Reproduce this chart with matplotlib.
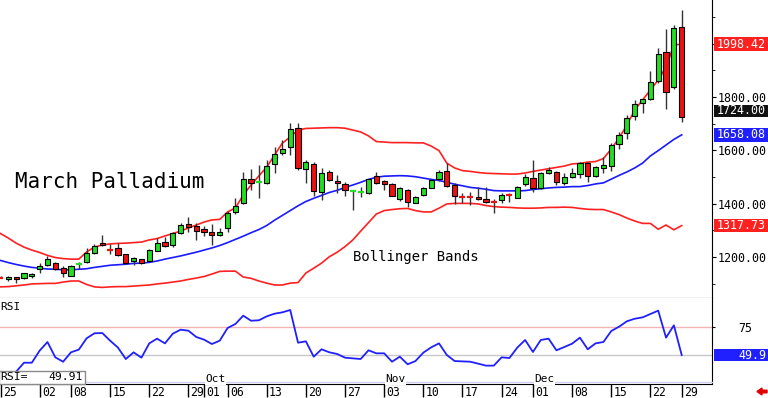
import matplotlib
matplotlib.use('Agg')
import matplotlib.pyplot as plt
from matplotlib.patches import Rectangle, FancyArrow
import numpy as np

# daily OHLC, Aug 25 .. Dec 29 (trading days)
opens = [1125, 1119, 1124, 1120, 1128, 1156, 1170, 1179, 1159, 1130, 1172, 1181, 1214, 1251, 1228, 1235, 1210, 1185, 1191, 1186,
         1224, 1256, 1244, 1289, 1325, 1316, 1306, 1295, 1281, 1309, 1369, 1401, 1492, 1480, 1476, 1549, 1589, 1614, 1683, 1529,
         1549, 1445, 1519, 1486, 1474, 1444, 1442, 1439, 1504, 1485, 1473, 1416, 1451, 1404, 1432, 1460, 1491, 1522, 1470, 1427,
         1427, 1425, 1419, 1409, 1414, 1434, 1423, 1473, 1498, 1458, 1514, 1520, 1476, 1501, 1511, 1551, 1505, 1535, 1543, 1623,
         1664, 1729, 1776, 1792, 1860, 1970, 1836, 2061]
highs = [1127, 1127, 1126, 1141, 1140, 1176, 1204, 1181, 1166, 1169, 1180, 1234, 1248, 1283, 1249, 1251, 1212, 1199, 1193, 1230,
         1270, 1274, 1294, 1327, 1349, 1329, 1316, 1324, 1309, 1371, 1420, 1520, 1530, 1545, 1562, 1612, 1639, 1701, 1702, 1564,
         1556, 1535, 1526, 1507, 1480, 1452, 1464, 1494, 1520, 1489, 1476, 1464, 1455, 1430, 1462, 1492, 1526, 1551, 1476, 1439,
         1443, 1461, 1461, 1416, 1441, 1441, 1468, 1511, 1564, 1519, 1539, 1522, 1516, 1533, 1557, 1555, 1540, 1576, 1629, 1670,
         1732, 1789, 1793, 1899, 1983, 2054, 2070, 2126]
lows = [1121, 1110, 1101, 1118, 1121, 1139, 1166, 1152, 1124, 1128, 1154, 1179, 1211, 1243, 1211, 1205, 1173, 1170, 1174, 1182,
        1222, 1237, 1237, 1285, 1295, 1264, 1279, 1245, 1279, 1295, 1361, 1399, 1450, 1422, 1474, 1515, 1583, 1583, 1526, 1476,
        1430, 1415, 1486, 1440, 1428, 1376, 1424, 1436, 1474, 1451, 1428, 1411, 1389, 1401, 1430, 1457, 1486, 1461, 1399, 1404,
        1395, 1414, 1401, 1366, 1404, 1408, 1421, 1466, 1445, 1455, 1511, 1470, 1470, 1495, 1495, 1482, 1500, 1516, 1524, 1604,
        1641, 1714, 1741, 1789, 1854, 1755, 1829, 1707]
closes = [1123, 1125, 1116, 1139, 1137, 1166, 1191, 1154, 1141, 1166, 1174, 1216, 1240, 1245, 1226, 1207, 1176, 1195, 1176, 1226,
          1251, 1241, 1289, 1319, 1314, 1299, 1295, 1284, 1294, 1364, 1391, 1494, 1478, 1482, 1541, 1585, 1604, 1679, 1533, 1555,
          1448, 1514, 1489, 1476, 1451, 1446, 1444, 1492, 1476, 1474, 1430, 1458, 1407, 1424, 1458, 1489, 1520, 1466, 1430, 1425,
          1425, 1417, 1408, 1407, 1433, 1432, 1464, 1499, 1458, 1514, 1526, 1480, 1501, 1516, 1551, 1504, 1536, 1545, 1620, 1657,
          1720, 1774, 1791, 1857, 1960, 1820, 2058, 1724]

upper_band = [1288, 1271, 1252, 1237, 1226, 1217, 1206, 1198, 1194, 1192, 1192, 1219, 1237, 1245, 1249, 1251, 1252, 1254, 1256, 1264,
              1269, 1279, 1288, 1297, 1309, 1320, 1331, 1339, 1341, 1369, 1384, 1432, 1470, 1504, 1537, 1582, 1627, 1650, 1676, 1682,
              1683, 1684, 1685, 1685, 1683, 1676, 1669, 1654, 1633, 1631, 1629, 1629, 1629, 1628, 1628, 1616, 1599, 1552, 1534, 1524,
              1521, 1517, 1514, 1513, 1512, 1511, 1511, 1515, 1521, 1526, 1531, 1536, 1541, 1549, 1551, 1556, 1558, 1569, 1605, 1646,
              1695, 1751, 1789, 1826, 1864, 1912, 1995, 1998.42]
mid_band = [1187, 1179, 1172, 1166, 1161, 1158, 1155, 1154, 1152, 1152, 1154, 1156, 1161, 1165, 1169, 1171, 1173, 1176, 1177, 1180,
            1185, 1192, 1198, 1204, 1211, 1218, 1226, 1234, 1243, 1254, 1266, 1278, 1291, 1303, 1318, 1338, 1356, 1374, 1392, 1408,
            1420, 1431, 1442, 1450, 1461, 1470, 1480, 1491, 1499, 1503, 1504, 1505, 1504, 1501, 1496, 1491, 1487, 1480, 1473, 1467,
            1461, 1458, 1454, 1449, 1448, 1448, 1448, 1449, 1453, 1456, 1459, 1461, 1462, 1464, 1464, 1468, 1474, 1478, 1492, 1506,
            1519, 1534, 1552, 1579, 1599, 1620, 1641, 1658.08]
lower_band = [1088, 1089, 1092, 1095, 1099, 1100, 1101, 1101, 1106, 1110, 1110, 1097, 1088, 1086, 1088, 1089, 1089, 1091, 1093, 1095,
              1099, 1102, 1106, 1110, 1116, 1121, 1127, 1136, 1146, 1147, 1147, 1125, 1120, 1110, 1102, 1095, 1095, 1102, 1104, 1140,
              1158, 1177, 1201, 1218, 1239, 1264, 1297, 1329, 1361, 1374, 1378, 1381, 1382, 1374, 1369, 1369, 1383, 1399, 1401, 1401,
              1401, 1399, 1393, 1389, 1387, 1386, 1384, 1383, 1383, 1384, 1386, 1386, 1387, 1386, 1382, 1379, 1378, 1378, 1369, 1359,
              1346, 1335, 1326, 1326, 1304, 1320, 1302, 1317.73]
rsi = [30, 33, 35.1, 43.1, 43.1, 53.9, 61.6, 47.9, 44.0, 52.4, 54.8, 64.9, 69.4, 69.6, 62.8, 56.6, 46.4, 52.4, 47.6, 60.4,
       64.6, 60.4, 69.0, 72.6, 71.7, 66.1, 63.7, 59.8, 62.8, 74.1, 77.7, 85.1, 80.6, 81.0, 84.5, 86.9, 88.1, 90.2, 61.0, 62.2,
       48.5, 55.1, 52.4, 50.9, 47.6, 47.0, 46.4, 54.2, 51.5, 51.5, 44.0, 48.5, 41.7, 44.6, 52.1, 56.8, 60.4, 50.0, 44.6, 44.3,
       44.0, 42.3, 40.5, 40.5, 47.9, 47.3, 56.6, 63.4, 52.7, 63.4, 64.6, 54.2, 57.1, 60.1, 65.5, 55.1, 60.4, 61.6, 71.4, 75.3,
       80.1, 82.4, 83.6, 86.6, 89.6, 65.5, 76.5, 49.91]

tick_idx = [0, 5, 9, 14, 19, 24, 26, 29, 34, 39, 44, 49, 54, 59, 64, 68, 73, 78, 83, 87]
tick_lab = ['25', '02', '08', '15', '22', '29', '01', '06', '13', '20', '27', '03', '10', '17', '24', '01', '08', '15', '22', '29']
month_idx = [26, 49, 68]
month_lab = ['Oct', 'Nov', 'Dec']
price_ticks = [1200, 1400, 1600, 1800]

plt.rcParams['font.family'] = 'DejaVu Sans Mono'

W, H = 768, 398
fig = plt.figure(figsize=(W / 100, H / 100), dpi=100)
ax = fig.add_axes([0, 100 / H, 712 / W, 298 / H])
ax2 = fig.add_axes([0, 14 / H, 712 / W, 86 / H])

GREEN = '#22dd22'
RED = '#ee1111'
x = np.arange(len(closes))
o = np.array(opens, float)
c = np.array(closes, float)
hi = np.array(highs, float)
lo = np.array(lows, float)
up = c >= o
doji = np.abs(c - o) < 4
cols = np.where(up, GREEN, RED)

ax.plot(x, upper_band, color='#ff2020', lw=1.2, zorder=2)
ax.plot(x, mid_band, color='#1a1aff', lw=1.2, zorder=2)
ax.plot(x, lower_band, color='#ff2020', lw=1.2, zorder=2)

ax.vlines(x, lo, hi, color='#333333', lw=1, zorder=3)
b = ~doji
ax.bar(x[b], np.abs(c - o)[b], bottom=np.minimum(o, c)[b], width=0.66,
       color=cols[b], edgecolor='black', linewidth=0.8, zorder=4)
ax.hlines(c[doji], x[doji] - 0.38, x[doji] + 0.38, colors=cols[doji], lw=1.6, zorder=4)

xl = (-0.5 / 7.83, 711.5 / 7.83)
ax.set_xlim(xl)
ax.set_ylim(1046.25, 2163.75)
ax.set_xticks([])
for s in ['left', 'top']:
    ax.spines[s].set_visible(False)
ax.yaxis.tick_right()
ax.set_yticks(price_ticks)
ax.set_yticklabels([f'{v:.2f}' for v in price_ticks])
ax.set_yticks(np.arange(1100, 2200, 100), minor=True)
ax.tick_params(axis='y', which='major', length=3, pad=1.2, labelsize=8.4)
ax.tick_params(axis='y', which='minor', length=2)

# RSI panel
ax2.axhline(75, color='#f4b4b4', lw=1, zorder=1)
ax2.axhline(50, color='#c8c8c8', lw=1, zorder=1)
ax2.plot(x, rsi, color='#2020ff', lw=1.3, zorder=2)
ax2.set_xlim(xl)
ax2.set_ylim(24.1, 100.9)
for s in ['left', 'top']:
    ax2.spines[s].set_visible(False)
ax2.yaxis.tick_right()
ax2.set_yticks([75])
ax2.tick_params(axis='y', length=2, pad=17, labelsize=8.4)
ax2.set_xticks(tick_idx)
ax2.tick_params(axis='x', length=9.4, width=1, direction='out', labelbottom=False)

# overlay in pixel coordinates
ov = fig.add_axes([0, 0, 1, 1])
ov.set_xlim(0, W)
ov.set_ylim(0, H)
ov.axis('off')


def tag(axis, v, txt, fc, shift=0.0, h=13.4):
    yd = axis.transData.transform((0, v))[1] + shift
    ov.add_patch(Rectangle((714, yd - h / 2), 54, h, fc=fc, ec='none', zorder=5))
    ov.text(766, yd, txt, color='white', ha='right', va='center', fontsize=8.4, zorder=6)


tag(ax, upper_band[-1], f'{upper_band[-1]:.2f}', '#ff2020')
tag(ax, closes[-1], f'{closes[-1]:.2f}', '#111111', shift=6.5, h=12)
tag(ax, mid_band[-1], f'{mid_band[-1]:.2f}', '#2020ff')
tag(ax, lower_band[-1], f'{lower_band[-1]:.2f}', '#ff2020')
tag(ax2, rsi[-1], f'{rsi[-1]:.1f}', '#2020ff', h=12.8)

ov.text(15, H - 188.3, 'March Palladium', fontsize=15, va='baseline', color='black')
ov.text(353, H - 261, 'Bollinger Bands', fontsize=10, va='baseline', color='black')
ov.text(0, H - 307, 'RSI', fontsize=8, va='center', color='black')

ov.plot([0, 712], [H - 381.7, H - 381.7], color='#cfcff0', lw=1, zorder=1)
for i, lab in zip(month_idx, month_lab):
    xd = ax2.transData.transform((i, 0))[0]
    ov.text(xd + 1.2, H - 379, lab, fontsize=8, va='center', ha='left', zorder=3,
            bbox=dict(fc='white', ec='none', pad=0.4))
for i, lab in zip(tick_idx, tick_lab):
    xd = ax2.transData.transform((i, 0))[0]
    ov.text(xd + 2.2, H - 392, lab, fontsize=8.3, va='center', ha='left')

ov.add_patch(Rectangle((-1, H - 383.5), 86, 12.8, fc='white', ec='#8a8a8a', lw=1, zorder=4))
ov.text(0, H - 377, 'RSI=', fontsize=8.2, va='center', ha='left', zorder=5)
ov.text(83, H - 377, f'{rsi[-1]:.2f}', fontsize=8.2, va='center', ha='right', zorder=5)

ov.add_patch(FancyArrow(767, H - 391.5, -10, 0, width=2.6, head_width=7, head_length=5,
                        length_includes_head=True, color='#e00000'))

fig.savefig('out.png', dpi=100)
